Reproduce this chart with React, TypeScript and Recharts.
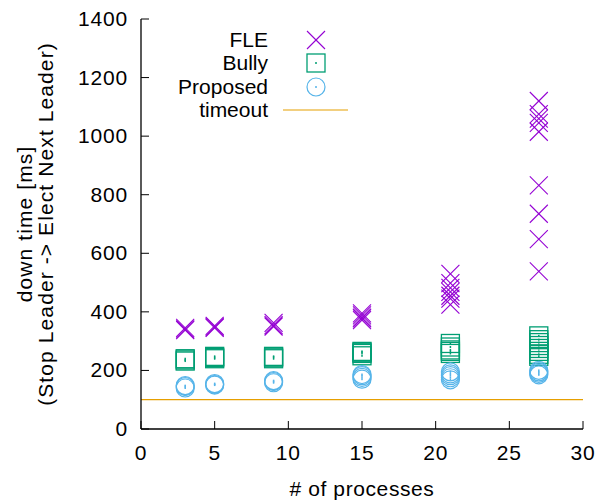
import React from 'react';
import { ScatterChart, Scatter, XAxis, YAxis, ReferenceLine, Legend } from 'recharts';

// # of processes for each measured group
const processCounts = [3, 5, 9, 15, 21, 27];

// down time [ms] per run, one list per process count
const fleTimes = [
  [340, 345, 338],
  [345, 352, 348],
  [350, 362, 355],
  [372, 380, 388, 395, 378],
  [530, 498, 482, 468, 455, 445, 425],
  [1120, 1075, 1060, 1045, 1015, 832, 735, 648, 538],
];
const bullyTimes = [
  [232, 240, 236],
  [240, 248, 244],
  [240, 248, 245],
  [250, 258, 265, 262],
  [292, 280, 270, 258, 265],
  [318, 305, 295, 285, 275, 265, 255, 248],
];
const proposedTimes = [
  [140, 148, 145],
  [150, 155, 152],
  [158, 165, 162],
  [170, 176, 182, 186],
  [168, 175, 182, 188, 195],
  [185, 190, 195, 200],
];
const timeoutMs = 100;

const xTicks = [0, 5, 10, 15, 20, 25, 30];
const yTicks = [0, 200, 400, 600, 800, 1000, 1200, 1400];

const FONT = '"Liberation Sans", Arial, Helvetica, sans-serif';
const COLORS = { fle: '#9400d3', bully: '#009e73', proposed: '#56b4e9', timeout: '#e69f00' };
const TICK_LEN = 8;

const toPoints = (values: number[][]) =>
  processCounts.flatMap((x, i) => values[i].map((y) => ({ x, y })));

const CrossMark = ({ cx, cy }: any) => (
  <g stroke={COLORS.fle} strokeWidth={1.1} fill="none">
    <line x1={cx - 9} y1={cy - 9} x2={cx + 9} y2={cy + 9} />
    <line x1={cx - 9} y1={cy + 9} x2={cx + 9} y2={cy - 9} />
  </g>
);

const SquareMark = ({ cx, cy }: any) => (
  <g>
    <rect x={cx - 9} y={cy - 9} width={18} height={18} stroke={COLORS.bully} strokeWidth={1.3} fill="none" />
    <rect x={cx - 0.75} y={cy - 1} width={1.5} height={2} fill={COLORS.bully} />
  </g>
);

const CircleMark = ({ cx, cy }: any) => (
  <g>
    <circle cx={cx} cy={cy} r={9} stroke={COLORS.proposed} strokeWidth={1.2} fill="none" />
    <rect x={cx - 0.75} y={cy - 1} width={1.5} height={2} fill={COLORS.proposed} />
  </g>
);

const BottomTick = ({ x, y, payload }: any) => (
  <g>
    <line x1={x} y1={y} x2={x} y2={y - TICK_LEN} stroke="#000" />
    <text x={x} y={y + 31} textAnchor="middle" fontFamily={FONT} fontSize={21} letterSpacing={0.8} fill="#000">
      {payload.value}
    </text>
  </g>
);

const TopTick = ({ x, y }: any) => <line x1={x} y1={y} x2={x} y2={y + TICK_LEN} stroke="#000" />;

const LeftTick = ({ x, y, payload }: any) => (
  <g>
    <line x1={x} y1={y} x2={x + TICK_LEN} y2={y} stroke="#000" />
    <text x={x - 13} y={y + 7} textAnchor="end" fontFamily={FONT} fontSize={21} letterSpacing={0.8} fill="#000">
      {payload.value}
    </text>
  </g>
);

const RightTick = ({ x, y }: any) => <line x1={x} y1={y} x2={x - TICK_LEN} y2={y} stroke="#000" />;

const XTitle = ({ viewBox }: any) => (
  <text
    x={viewBox.x + viewBox.width / 2}
    y={496}
    textAnchor="middle"
    fontFamily={FONT}
    fontSize={21}
    letterSpacing={0.6}
    fill="#000"
  >
    # of processes
  </text>
);

const YTitle = ({ viewBox }: any) => {
  const cy = viewBox.y + viewBox.height / 2;
  return (
    <g fontFamily={FONT} fontSize={21} fill="#000" textAnchor="middle" letterSpacing={1.1}>
      <text x={32} y={cy} transform={`rotate(-90 32 ${cy})`}>
        down time [ms]
      </text>
      <text x={53} y={cy} transform={`rotate(-90 53 ${cy})`}>
        (Stop Leader -&gt; Elect Next Leader)
      </text>
    </g>
  );
};

const legendRows = [
  { label: 'FLE', y: 40, Mark: CrossMark },
  { label: 'Bully', y: 63, Mark: SquareMark },
  { label: 'Proposed', y: 87, Mark: CircleMark },
];

const KeyBox = () => (
  <svg width={611} height={130} style={{ position: 'absolute', left: 0, top: 0, overflow: 'visible' }}>
    <g fontFamily={FONT} fontSize={21} fill="#000" textAnchor="end">
      {legendRows.map((r) => (
        <g key={r.label}>
          <text x={268} y={r.y + 7}>{r.label}</text>
          <r.Mark cx={316} cy={r.y} />
        </g>
      ))}
      <text x={268} y={117}>timeout</text>
    </g>
    <line x1={283} y1={110} x2={348} y2={110} stroke={COLORS.timeout} strokeWidth={1.2} />
  </svg>
);

export default function App() {
  const axisLine = { stroke: '#000', strokeWidth: 1.3 };
  return (
    <div style={{ position: 'absolute', left: 0, top: 0, width: 611, height: 500, background: '#fff' }}>
      <ScatterChart width={611} height={500} margin={{ top: 19, right: 28, bottom: 0, left: 0 }}>
        <XAxis
          xAxisId="b"
          type="number"
          dataKey="x"
          domain={[0, 30]}
          ticks={xTicks}
          height={71}
          tickSize={0}
          tickMargin={0}
          tickLine={false}
          axisLine={axisLine}
          tick={<BottomTick />}
          label={<XTitle />}
          allowDataOverflow
        />
        <XAxis
          xAxisId="t"
          orientation="top"
          type="number"
          dataKey="x"
          domain={[0, 30]}
          ticks={xTicks}
          height={0}
          tickSize={0}
          tickMargin={0}
          tickLine={false}
          axisLine={axisLine}
          tick={<TopTick />}
          allowDataOverflow
        />
        <YAxis
          yAxisId="l"
          type="number"
          dataKey="y"
          domain={[0, 1400]}
          ticks={yTicks}
          width={141}
          tickSize={0}
          tickMargin={0}
          tickLine={false}
          axisLine={axisLine}
          tick={<LeftTick />}
          label={<YTitle />}
          allowDataOverflow
        />
        <YAxis
          yAxisId="r"
          orientation="right"
          type="number"
          dataKey="y"
          domain={[0, 1400]}
          ticks={yTicks}
          width={0}
          tickSize={0}
          tickMargin={0}
          tickLine={false}
          axisLine={axisLine}
          tick={<RightTick />}
          allowDataOverflow
        />
        <ReferenceLine xAxisId="b" yAxisId="l" y={timeoutMs} stroke={COLORS.timeout} strokeWidth={1.2} />
        <Scatter name="FLE" xAxisId="b" yAxisId="l" data={toPoints(fleTimes)} shape={<CrossMark />} isAnimationActive={false} />
        <Scatter name="Bully" xAxisId="b" yAxisId="l" data={toPoints(bullyTimes)} shape={<SquareMark />} isAnimationActive={false} />
        <Scatter name="Proposed" xAxisId="b" yAxisId="l" data={toPoints(proposedTimes)} shape={<CircleMark />} isAnimationActive={false} />
        <Scatter xAxisId="t" yAxisId="r" data={toPoints(proposedTimes)} shape={() => <g />} isAnimationActive={false} legendType="none" />
        <Legend
          content={<KeyBox />}
          wrapperStyle={{ position: 'absolute', left: 0, top: 0, width: 0, height: 0 }}
        />
      </ScatterChart>
    </div>
  );
}
